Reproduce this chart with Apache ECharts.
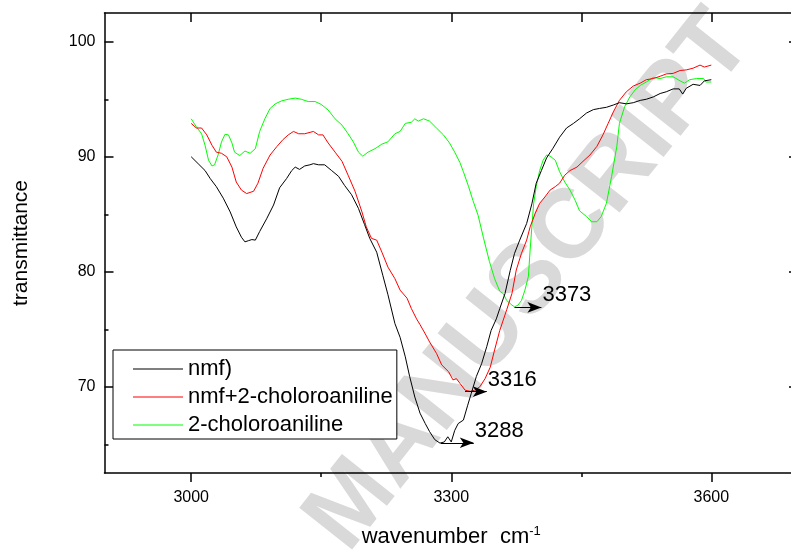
<!DOCTYPE html>
<html>
<head>
<meta charset="utf-8">
<script src="https://cdn.jsdelivr.net/npm/echarts@6/dist/echarts.min.js"></script>
<style>html,body{margin:0;padding:0;background:#fff}#c{width:791px;height:553px}</style>
</head>
<body>
<div id="c"></div>
<script>
// ---- data (wavenumber cm-1, transmittance) ----
var nmf = [[3000,90.0],[3008,89.4],[3016,88.8],[3022,88.1],[3029,87.4],[3037,86.4],[3045,85.2],[3052,83.9],[3058,83.0],[3062,82.6],[3066,82.7],[3070,82.8],[3074,82.75],[3079,83.5],[3087,84.6],[3095,85.8],[3102,87.3],[3110,88.1],[3116,88.8],[3120,89.1],[3125,88.9],[3131,89.2],[3137,89.3],[3141,89.4],[3147,89.3],[3154,89.3],[3162,88.8],[3170,88.3],[3177,87.5],[3185,86.7],[3193,85.5],[3200,84.1],[3206,82.9],[3214,81.7],[3221,79.7],[3227,78.0],[3235,75.5],[3241,74.3],[3247,72.6],[3252,70.9],[3258,69.1],[3264,67.7],[3270,66.8],[3275,66.1],[3281,65.4],[3287,65.1],[3292,65.2],[3296,65.65],[3300,65.2],[3304,66.2],[3308,66.8],[3314,67.1],[3319,68.4],[3323,69.4],[3329,70.9],[3335,72.0],[3341,73.5],[3346,74.9],[3352,75.9],[3356,76.8],[3362,78.1],[3368,80.1],[3373,81.6],[3379,82.75],[3387,84.2],[3393,85.9],[3398,87.7],[3404,88.8],[3410,89.9],[3417,90.7],[3425,91.7],[3433,92.5],[3441,92.9],[3448,93.3],[3456,93.8],[3464,94.1],[3471,94.2],[3479,94.3],[3487,94.5],[3494,94.7],[3502,94.6],[3510,94.7],[3518,94.9],[3525,95.0],[3533,95.2],[3541,95.5],[3548,95.65],[3556,95.9],[3563,95.9],[3567,95.45],[3571,95.95],[3579,96.3],[3587,96.2],[3592,96.6],[3600,96.7]];
var nmfCa = [[3000,92.9],[3006,92.5],[3012,92.5],[3018,91.9],[3024,91.0],[3029,90.4],[3035,90.3],[3041,90.0],[3047,89.1],[3052,87.8],[3058,87.1],[3064,86.8],[3072,87.0],[3077,87.7],[3083,89.0],[3091,90.15],[3099,90.9],[3106,91.5],[3112,91.9],[3118,92.2],[3124,92.0],[3131,92.0],[3141,92.2],[3147,91.9],[3152,91.9],[3158,91.2],[3166,90.4],[3174,89.6],[3181,88.4],[3189,87.0],[3197,85.2],[3202,83.9],[3208,82.9],[3214,82.75],[3220,81.7],[3227,80.4],[3235,79.4],[3241,78.4],[3249,77.7],[3254,76.8],[3260,75.9],[3264,75.4],[3270,74.6],[3275,73.9],[3283,72.9],[3289,71.9],[3297,71.3],[3302,70.6],[3306,70.7],[3310,70.3],[3316,69.7],[3322,69.6],[3327,69.7],[3333,70.0],[3339,70.7],[3345,71.7],[3350,73.2],[3356,74.9],[3360,75.8],[3364,76.7],[3370,78.1],[3375,80.15],[3381,81.6],[3387,82.75],[3391,83.9],[3397,85.1],[3402,85.95],[3408,86.5],[3414,87.1],[3420,87.4],[3425,87.7],[3431,88.4],[3437,88.8],[3445,89.1],[3452,89.6],[3460,90.15],[3468,90.9],[3475,91.9],[3481,92.9],[3487,93.9],[3494,94.9],[3502,95.65],[3510,96.15],[3518,96.4],[3525,96.7],[3533,96.8],[3541,97.0],[3548,97.2],[3556,97.25],[3564,97.5],[3571,97.55],[3579,97.7],[3587,97.97],[3592,97.8],[3600,97.97]];
var ca = [[3000,93.3],[3006,92.6],[3012,92.0],[3016,91.0],[3020,89.7],[3024,89.2],[3027,89.3],[3031,90.15],[3035,91.3],[3039,91.95],[3043,91.9],[3047,91.2],[3050,90.4],[3056,90.1],[3062,90.5],[3068,90.3],[3074,90.7],[3079,92.2],[3085,93.3],[3091,94.2],[3097,94.6],[3104,94.85],[3112,95.0],[3120,95.1],[3127,95.0],[3135,94.8],[3143,94.8],[3150,94.55],[3158,94.06],[3166,93.3],[3174,92.75],[3181,92.0],[3187,91.3],[3193,90.4],[3198,90.05],[3204,90.4],[3212,90.7],[3220,91.1],[3227,91.3],[3235,92.0],[3241,92.2],[3247,92.9],[3254,93.0],[3258,93.3],[3262,93.1],[3268,93.3],[3275,93.1],[3283,92.5],[3291,91.9],[3298,91.2],[3304,90.4],[3310,89.5],[3314,88.7],[3320,87.4],[3325,86.2],[3331,84.9],[3337,83.0],[3344,80.9],[3350,79.4],[3356,78.3],[3360,78.1],[3364,77.5],[3370,77.1],[3373,76.95],[3377,77.1],[3381,77.5],[3385,78.4],[3389,79.6],[3391,81.9],[3393,83.9],[3395,85.9],[3398,87.4],[3402,88.8],[3406,89.7],[3410,90.15],[3414,90.06],[3420,89.7],[3425,88.7],[3431,87.8],[3437,87.1],[3443,86.2],[3448,85.3],[3456,84.8],[3462,84.35],[3468,84.35],[3473,84.8],[3479,85.95],[3485,88.3],[3491,90.9],[3494,92.9],[3500,94.35],[3506,95.2],[3512,95.8],[3518,96.2],[3525,96.5],[3533,96.9],[3541,96.8],[3548,96.95],[3556,96.95],[3564,96.6],[3569,96.4],[3575,96.7],[3583,96.8],[3591,96.8],[3594,96.5],[3600,96.5]];

var seriesNames = ['nmf)', 'nmf+2-choloroaniline', '2-choloroaniline'];
var xLabelTicks = [3000, 3300, 3600];
var xMinorTicks = [3150, 3450];
var yLabelTicks = [70, 80, 90, 100];
var yMinorTicks = [65, 75, 85, 95];
// peak annotations: [peak wavenumber, transmittance at arrow, arrow end wavenumber]
var peakNmf = [3288, 65.13, 3326];
var peakNmfCa = [3316, 69.57, 3341];
var peakCa = [3373, 76.9, 3404];

var chart = echarts.init(document.getElementById('c'), null, {renderer: 'canvas'});
var FONT = 'Liberation Sans, Arial, sans-serif';
var axisLine = {show: true, lineStyle: {color: '#000', width: 1.5}};
function plain(v) { return String(v); }

function arrow(p) {
  return [
    {name: String(p[0]), coord: [p[0], p[1]]},
    {name: String(p[0]), coord: [p[2], p[1]]}
  ];
}
function ml(p) {
  return {
    silent: true,
    animation: false,
    symbol: ['none', 'arrow'],
    symbolSize: [8, 14],
    lineStyle: {color: '#000', width: 1, type: 'solid'},
    label: {
      show: true, position: 'end', distance: 1, formatter: '{b}',
      color: '#000', fontSize: 22, fontFamily: FONT,
      verticalAlign: 'bottom', lineHeight: 24
    },
    emphasis: {disabled: true},
    data: [arrow(p)]
  };
}

var option = {
  animation: false,
  backgroundColor: '#fff',
  textStyle: {fontFamily: FONT},
  graphic: [{
    type: 'text', z: -10, silent: true,
    x: 530, y: 282, rotation: 0.9,
    style: {
      text: 'MANUSCRIPT', fill: '#d9d9d9',
      font: 'bold 98px Liberation Sans, Arial, sans-serif',
      textAlign: 'center', textVerticalAlign: 'middle'
    }
  }],
  grid: {left: 104.5, top: 13, right: -7, bottom: 80, containLabel: false, outerBoundsMode: 'none'},
  legend: {
    show: true, orient: 'vertical', left: 113, top: 350,
    data: seriesNames,
    icon: 'rect', itemWidth: 50, itemHeight: 1, itemGap: 6,
    padding: [8, 4, 3, 20],
    borderColor: '#000', borderWidth: 1, backgroundColor: '#fff',
    textStyle: {color: '#000', fontSize: 22, fontFamily: FONT},
    selectedMode: false
  },
  xAxis: [{
    type: 'value', position: 'bottom', min: 2900, max: 3700,
    axisLine: axisLine,
    axisTick: {show: true, inside: false, length: 9, customValues: xLabelTicks, lineStyle: {color: '#000', width: 1.5}},
    axisLabel: {show: true, customValues: xLabelTicks, formatter: plain, color: '#000', fontSize: 16, fontFamily: FONT, margin: 17},
    splitLine: {show: false},
    name: 'wavenumber  cm{sup|-1}', nameLocation: 'middle', nameGap: 52,
    nameTextStyle: {color: '#000', fontSize: 22, fontFamily: FONT,
      rich: {sup: {fontSize: 13, verticalAlign: 'top', padding: [0, 0, 10, 0], color: '#000', fontFamily: FONT}}}
  }, {
    type: 'value', position: 'bottom', min: 2900, max: 3700,
    axisLine: {show: false},
    axisTick: {show: true, inside: false, length: 4, customValues: xMinorTicks, lineStyle: {color: '#000', width: 1.5}},
    axisLabel: {show: false}, splitLine: {show: false}
  }, {
    type: 'value', position: 'top', min: 2900, max: 3700,
    axisLine: axisLine,
    axisTick: {show: true, inside: true, length: 9, customValues: [3000, 3150, 3300, 3450, 3600], lineStyle: {color: '#000', width: 1.5}},
    axisLabel: {show: false}, splitLine: {show: false}
  }],
  yAxis: [{
    type: 'value', position: 'left', min: 62.5, max: 102.5,
    axisLine: axisLine,
    axisTick: {show: true, inside: true, length: 9, customValues: yLabelTicks, lineStyle: {color: '#000', width: 1.5}},
    axisLabel: {show: true, customValues: yLabelTicks, formatter: plain, color: '#000', fontSize: 16, fontFamily: FONT, margin: 9},
    splitLine: {show: false},
    name: 'transmittance', nameLocation: 'middle', nameGap: 73, nameRotate: 90,
    nameTextStyle: {color: '#000', fontSize: 21, fontFamily: FONT}
  }, {
    type: 'value', position: 'left', min: 62.5, max: 102.5,
    axisLine: {show: false},
    axisTick: {show: true, inside: true, length: 4, customValues: yMinorTicks, lineStyle: {color: '#000', width: 1.5}},
    axisLabel: {show: false}, splitLine: {show: false}
  }, {
    type: 'value', position: 'right', min: 62.5, max: 102.5,
    axisLine: axisLine,
    axisTick: {show: true, inside: true, length: 9, customValues: yLabelTicks, lineStyle: {color: '#000', width: 1.5}},
    axisLabel: {show: false}, splitLine: {show: false}
  }],
  series: [{
    name: seriesNames[0], type: 'line', data: nmf, showSymbol: false, symbol: 'none',
    xAxisIndex: 0, yAxisIndex: 0, z: 5,
    lineStyle: {color: '#000000', width: 1}, itemStyle: {color: '#000000'},
    markLine: ml(peakNmf)
  }, {
    name: seriesNames[1], type: 'line', data: nmfCa, showSymbol: false, symbol: 'none',
    xAxisIndex: 0, yAxisIndex: 0, z: 4,
    lineStyle: {color: '#ff0000', width: 1}, itemStyle: {color: '#ff0000'},
    markLine: ml(peakNmfCa)
  }, {
    name: seriesNames[2], type: 'line', data: ca, showSymbol: false, symbol: 'none',
    xAxisIndex: 0, yAxisIndex: 0, z: 3,
    lineStyle: {color: '#00ff00', width: 1}, itemStyle: {color: '#00ff00'},
    markLine: ml(peakCa)
  }]
};
chart.setOption(option);
</script>
</body>
</html>
